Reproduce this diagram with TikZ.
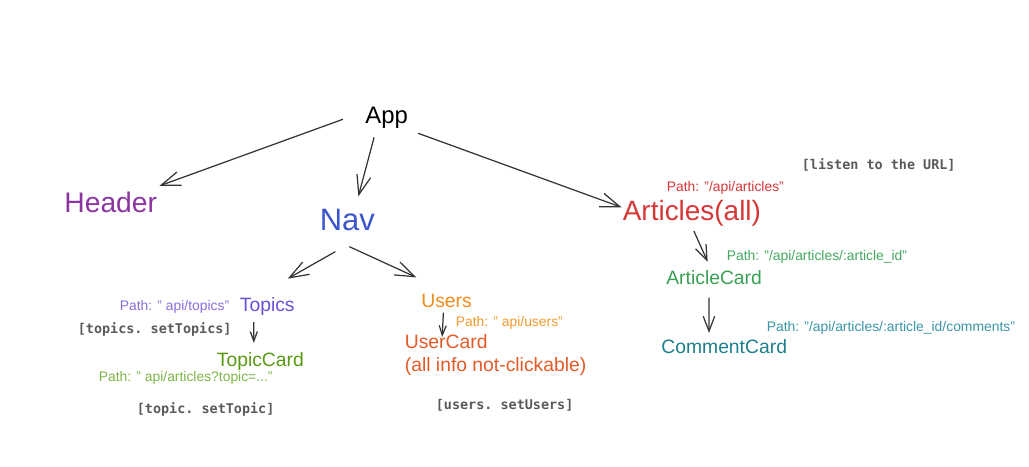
\documentclass[tikz,border=0pt]{standalone}
\usepackage{fontspec}
\setmainfont{Liberation Sans}
\setmonofont{DejaVu Sans Mono}
\usepackage{tikz}
\usetikzlibrary{arrows.meta}

\definecolor{headercol}{HTML}{8B35A0}
\definecolor{navcol}{HTML}{3B55CC}
\definecolor{articlescol}{HTML}{D63838}
\definecolor{topicscol}{HTML}{6B4FD6}
\definecolor{topicspath}{HTML}{8A6FDB}
\definecolor{topiccardcol}{HTML}{5A9A12}
\definecolor{topicpath}{HTML}{7DB548}
\definecolor{userscol}{HTML}{F28A1E}
\definecolor{userspath}{HTML}{F29A2E}
\definecolor{usercardcol}{HTML}{E55A26}
\definecolor{articlecardcol}{HTML}{3AA055}
\definecolor{articlecardpath}{HTML}{45A860}
\definecolor{commentcardcol}{HTML}{1E7F8C}
\definecolor{commentpath}{HTML}{3A95A5}
\definecolor{stategray}{HTML}{5A5A5A}
\definecolor{linkgray}{HTML}{333333}

\begin{document}
\begin{tikzpicture}[
						x=0.02cm, y=-0.02cm, % one unit = one pixel of the sketch
						every node/.style={inner sep=0pt, anchor=base west},
						comp/.style={font=\fontsize{11}{13}\selectfont},
						pathlbl/.style={font=\fontsize{7.9}{9}\selectfont},
						statelbl/.style={font=\ttfamily\bfseries\fontsize{7.65}{9}\selectfont, text=stategray},
						link/.style={draw=linkgray, line width=0.7pt},
						bigtip/.style={-{Straight Barb[length=11pt,width=8pt]}},
						midtip/.style={-{Straight Barb[length=8.5pt,width=6.5pt]}},
						smalltip/.style={-{Straight Barb[length=5.5pt,width=4pt]}}
				]
    \useasboundingbox (0,0) rectangle (1029,467);

    % top level
    \node (App) at (365,123) {\fontsize{13.6}{16}\selectfont App};
    \node (Header) at (64,212.7) [text=headercol] {\fontsize{16.1}{19}\selectfont Header};
    \node (Nav) at (319.5,230) [text=navcol] {\fontsize{17.6}{21}\selectfont Nav};
    \node (Articles) at (622.5,220) [text=articlescol] {\fontsize{15.9}{19}\selectfont Articles(all)};

    % Nav side
    \node (Topics) [comp, text=topicscol] at (239.5,311.7) {Topics};
    \node (TopicsPath) [pathlbl, text=topicspath] at (119.5,310.7) {Path: " api/topics"};
    \node (TopicsState) [statelbl] at (77.5,333) {[topics. setTopics]};
    \node (TopicCard) [comp, text=topiccardcol] at (216.5,366.7) {TopicCard};
    \node (TopicPath) [pathlbl, text=topicpath] at (98.5,381.7) {Path: " api/articles?topic=..."};
    \node (TopicState) [statelbl] at (136.5,413) {[topic. setTopic]};

    \node (Users) [comp, text=userscol] at (421,307.3) {Users};
    \node (UsersPath) [pathlbl, text=userspath] at (455.5,326) {Path: " api/users"};
    \node (UserCard) [comp, text=usercardcol] at (404.5,348.3) {UserCard};
    \node (UserCardNote) [comp, text=usercardcol] at (404.5,371.5) {(all info not-clickable)};
    \node (UsersState) [statelbl] at (435.5,409) {[users. setUsers]};

    % Articles side
    \node (UrlState) [statelbl] at (801.5,169.3) {[listen to the URL]};
    \node (ArticlesPath) [pathlbl, text=articlescol] at (666.5,191) {Path: "/api/articles"};
    \node (ArticleCard) [comp, text=articlecardcol] at (666,284) {ArticleCard};
    \node (ArticleCardPath) [pathlbl, text=articlecardpath] at (726.5,260) {Path: "/api/articles/:article\_id"};
    \node (CommentCard) [comp, text=commentcardcol] at (661,353.3) {CommentCard};
    \node (CommentPath) [pathlbl, text=commentpath] at (766.5,331.7) {Path: "/api/articles/:article\_id/comments"};

    % Add arrows
    \draw[link, bigtip] ([shift={(-22,2)}]App.west) -- ([shift={(2,-6)}]Header.north east);
    \draw[link, bigtip] ([shift={(-12.5,9)}]App.south) -- ([shift={(11,-12)}]Nav.north);
    \draw[link, bigtip] ([shift={(10,5)}]App.south east) -- ([shift={(-1,-5.5)}]Articles.west);
    \draw[link, bigtip] ([shift={(-12,21)}]Nav.south) -- ([shift={(20.5,-18.7)}]Topics.north);
    \draw[link, bigtip] ([shift={(2,16)}]Nav.south) -- ([shift={(-4.7,-16.3)}]Users.north west);
    \draw[link, smalltip] ([shift={(-13.5,6)}]Topics.south) -- ([shift={(-6.5,-9.4)}]TopicCard.north);
    \draw[link, smalltip] ([shift={(-3.2,4.7)}]Users.south) -- ([shift={(-4,3)}]UserCard.north);
    \draw[link, midtip] ([shift={(2,5)}]Articles.south) -- ([shift={(-6.5,-8)}]ArticleCard.north);
    \draw[link, midtip] ([shift={(-5.2,13)}]ArticleCard.south) -- ([shift={(-15.2,-6)}]CommentCard.north);

  \end{tikzpicture}
\end{document}
